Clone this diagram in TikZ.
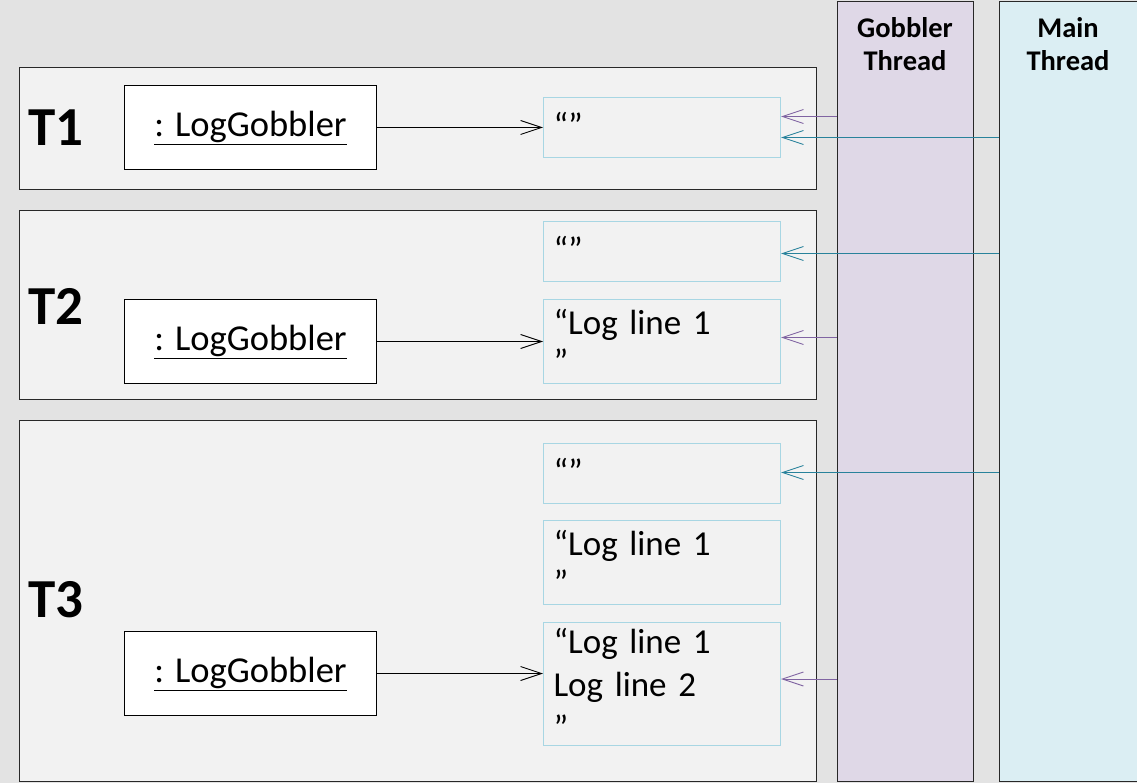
\documentclass[tikz,border=0pt]{standalone}
\usepackage{fontspec}
\setmainfont{Carlito}
\usetikzlibrary{arrows.meta}
\definecolor{bgc}{RGB}{227,227,227}
\definecolor{panelc}{RGB}{242,242,242}
\definecolor{gobc}{RGB}{223,216,231}
\definecolor{mainc}{RGB}{219,238,243}
\definecolor{vborder}{RGB}{168,214,227}
\definecolor{purp}{RGB}{128,100,162}
\definecolor{teal}{RGB}{40,130,155}
\definecolor{edge}{RGB}{40,40,40}
\tikzset{
  panel/.style={draw=edge, line width=1pt, fill=panelc, minimum width=797pt, anchor=north west, inner sep=0pt},
  thread/.style={draw=edge, line width=1pt, anchor=north west, inner sep=0pt, minimum height=780pt},
  obj/.style={draw=black, line width=1pt, fill=white, minimum width=252pt, minimum height=84pt, anchor=north west, inner sep=0pt, font=\fontsize{36.5}{42}\selectfont},
  val/.style={draw=vborder, line width=1pt, fill=panelc, minimum width=237pt, anchor=north west, inner xsep=10pt, inner ysep=0pt, text width=217pt, align=left, font=\fontsize{35}{39}\selectfont},
  tlabel/.style={font=\fontsize{55}{60}\selectfont\bfseries},
  thlabel/.style={font=\fontsize{28.5}{33}\selectfont\bfseries, align=center, anchor=north},
  barb/.style={-{Straight Barb[length=21pt,width=14pt,line width=0.9pt]}, line width=1pt},
  objarrow/.style={barb, draw=black},
  parrow/.style={barb, draw=purp},
  tarrow/.style={barb, draw=teal},
}
\begin{document}
\begin{tikzpicture}[x=1pt,y=-1pt]
\useasboundingbox (0,0) rectangle (1137,783);
\fill[bgc] (0,0) rectangle (1137,783);

% thread columns
\node[thread, fill=gobc, minimum width=136pt] (gob) at (837,1) {};
\node[thread, fill=mainc, minimum width=140pt] (main) at (999,1) {};
\node[thlabel] (gobl) at (905,14) {Gobbler\\Thread};
\node[thlabel] (mainl) at (1068,14) {Main\\Thread};

% panels
\node[panel, minimum height=122pt] (p1) at (19,67) {};
\node[panel, minimum height=189pt] (p2) at (19,210) {};
\node[panel, minimum height=361pt] (p3) at (19,420) {};

\node[tlabel] (t1) at (56,128) {T1};
\node[tlabel] (t2) at (56,306) {T2};
\node[tlabel] (t3) at (56,600) {T3};

% objects
\node[obj] (o1) at (124,85) {\underline{: LogGobbler}};
\node[obj] (o2) at (124,299) {\underline{: LogGobbler}};
\node[obj] (o3) at (124,631) {\underline{: LogGobbler}};

% value boxes
\node[val, minimum height=60pt] (v1) at (543,97) {\raisebox{6pt}{“”}};
\node[val, minimum height=60pt] (v2a) at (543,221) {\raisebox{6pt}{“”}};
\node[val, minimum height=84pt] (v2b) at (543,299) {“Log line 1\\”};
\node[val, minimum height=60pt] (v3a) at (543,443) {\raisebox{6pt}{“”}};
\node[val, minimum height=84pt] (v3b) at (543,520) {“Log line 1\\”};
\node[val, minimum height=123pt, font=\fontsize{35}{43}\selectfont] (v3c) at (543,622) {“Log line 1\\Log line 2\\”};

% object arrows
\draw[objarrow] (o1.east) -- (o1.east -| v1.west);
\draw[objarrow] (o2.east) -- (o2.east -| v2b.west);
\draw[objarrow] (o3.east) -- (o3.east -| v3c.west);

% thread arrow endpoints
\coordinate (g1) at ([yshift=11pt]v1.east);
\coordinate (m1) at ([yshift=-10pt]v1.east);
\coordinate (m2) at ([yshift=-2pt]v2a.east);
\coordinate (g2) at ([yshift=4pt]v2b.east);
\coordinate (m3) at ([yshift=1pt]v3a.east);
\coordinate (g3) at ([yshift=5pt]v3c.east);

\draw[parrow] (gob.west |- g1) -- (g1);
\draw[parrow] (gob.west |- g2) -- (g2);
\draw[parrow] (gob.west |- g3) -- (g3);
\draw[tarrow] (main.west |- m1) -- (m1);
\draw[tarrow] (main.west |- m2) -- (m2);
\draw[tarrow] (main.west |- m3) -- (m3);
\end{tikzpicture}
\end{document}
